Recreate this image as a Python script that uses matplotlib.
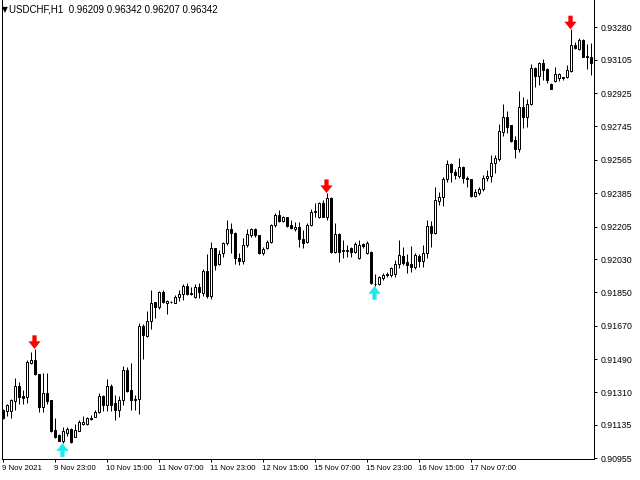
import matplotlib
matplotlib.use("Agg")
import matplotlib.pyplot as plt
import numpy as np

# USDCHF H1 candles
opens = [0.91215, 0.91208, 0.91212, 0.91266, 0.91345, 0.91291, 0.91287, 0.91471, 0.91485, 0.91410,
         0.91230, 0.91309, 0.91269, 0.91108, 0.91079, 0.91050, 0.91093, 0.91111, 0.91071, 0.91104,
         0.91140, 0.91140, 0.91172, 0.91179, 0.91206, 0.91291, 0.91240, 0.91345, 0.91253, 0.91218,
         0.91269, 0.91431, 0.91323, 0.91275, 0.91273, 0.91669, 0.91615, 0.91696, 0.91796, 0.91769,
         0.91852, 0.91791, 0.91796, 0.91794, 0.91823, 0.91841, 0.91884, 0.91847, 0.91827, 0.91877,
         0.91845, 0.91967, 0.91830, 0.92088, 0.92003, 0.92061, 0.92115, 0.92190, 0.92172, 0.92034,
         0.92021, 0.92105, 0.92159, 0.92190, 0.92159, 0.92061, 0.92088, 0.92123, 0.92213, 0.92267,
         0.92237, 0.92255, 0.92213, 0.92192, 0.92204, 0.92136, 0.92123, 0.92213, 0.92283, 0.92255,
         0.92334, 0.92258, 0.92357, 0.92069, 0.92165, 0.92075, 0.92075, 0.92088, 0.92069, 0.92034,
         0.92111, 0.92064, 0.92069, 0.91897, 0.91895, 0.91926, 0.91949, 0.91944, 0.91949, 0.92003,
         0.92046, 0.92015, 0.92003, 0.91988, 0.92046, 0.92021, 0.92064, 0.92206, 0.92172, 0.92344,
         0.92363, 0.92460, 0.92542, 0.92501, 0.92478, 0.92525, 0.92465, 0.92460, 0.92370, 0.92388,
         0.92406, 0.92465, 0.92478, 0.92546, 0.92568, 0.92717, 0.92798, 0.92751, 0.92672, 0.92622,
         0.92851, 0.92798, 0.92864, 0.93059, 0.93015, 0.93089, 0.93053, 0.92974, 0.92992, 0.93005,
         0.93010, 0.93010, 0.93046, 0.93184, 0.93161, 0.93211, 0.93125, 0.93118]
highs = [0.91219, 0.91248, 0.91275, 0.91390, 0.91368, 0.91323, 0.91485, 0.91530, 0.91545, 0.91410,
         0.91417, 0.91413, 0.91269, 0.91171, 0.91084, 0.91125, 0.91125, 0.91117, 0.91138, 0.91162,
         0.91183, 0.91176, 0.91188, 0.91215, 0.91306, 0.91296, 0.91381, 0.91354, 0.91296, 0.91291,
         0.91453, 0.91446, 0.91471, 0.91296, 0.91686, 0.91679, 0.91749, 0.91863, 0.91800, 0.91857,
         0.91863, 0.91809, 0.91803, 0.91836, 0.91863, 0.91895, 0.91899, 0.91881, 0.91895, 0.91902,
         0.91974, 0.92057, 0.92123, 0.92092, 0.92078, 0.92123, 0.92240, 0.92226, 0.92175, 0.92061,
         0.92142, 0.92190, 0.92196, 0.92196, 0.92162, 0.92096, 0.92132, 0.92219, 0.92276, 0.92294,
         0.92262, 0.92258, 0.92240, 0.92230, 0.92231, 0.92186, 0.92223, 0.92298, 0.92330, 0.92339,
         0.92348, 0.92386, 0.92362, 0.92223, 0.92172, 0.92132, 0.92105, 0.92096, 0.92123, 0.92132,
         0.92118, 0.92129, 0.92075, 0.91949, 0.91938, 0.91956, 0.91961, 0.91985, 0.92025, 0.92132,
         0.92093, 0.92057, 0.92100, 0.92061, 0.92057, 0.92105, 0.92240, 0.92237, 0.92417, 0.92393,
         0.92471, 0.92564, 0.92549, 0.92514, 0.92573, 0.92532, 0.92478, 0.92462, 0.92406, 0.92417,
         0.92483, 0.92510, 0.92591, 0.92591, 0.92758, 0.92866, 0.92830, 0.92753, 0.92693, 0.92936,
         0.92902, 0.92891, 0.93082, 0.93067, 0.93094, 0.93107, 0.93059, 0.92977, 0.93064, 0.93033,
         0.93013, 0.93076, 0.93269, 0.93202, 0.93220, 0.93215, 0.93190, 0.93195]
lows = [0.91165, 0.91183, 0.91171, 0.91215, 0.91248, 0.91248, 0.91255, 0.91462, 0.91404, 0.91203,
        0.91203, 0.91248, 0.91098, 0.91064, 0.91048, 0.91036, 0.91075, 0.91040, 0.91070, 0.91102,
        0.91135, 0.91137, 0.91162, 0.91176, 0.91201, 0.91212, 0.91210, 0.91212, 0.91162, 0.91178,
        0.91242, 0.91313, 0.91215, 0.91215, 0.91194, 0.91489, 0.91609, 0.91652, 0.91710, 0.91759,
        0.91791, 0.91732, 0.91791, 0.91791, 0.91805, 0.91809, 0.91836, 0.91838, 0.91822, 0.91820,
        0.91830, 0.91818, 0.91813, 0.91971, 0.91998, 0.92039, 0.92105, 0.92061, 0.92003, 0.91998,
        0.92003, 0.92096, 0.92150, 0.92150, 0.92057, 0.92052, 0.92082, 0.92118, 0.92201, 0.92231,
        0.92231, 0.92204, 0.92190, 0.92181, 0.92096, 0.92088, 0.92118, 0.92208, 0.92258, 0.92249,
        0.92255, 0.92240, 0.92065, 0.92061, 0.92015, 0.92034, 0.92039, 0.92042, 0.92064, 0.92028,
        0.92088, 0.92057, 0.91895, 0.91884, 0.91890, 0.91917, 0.91931, 0.91934, 0.91931, 0.91980,
        0.91998, 0.91956, 0.91961, 0.91974, 0.91988, 0.91985, 0.92034, 0.92093, 0.92165, 0.92321,
        0.92316, 0.92447, 0.92447, 0.92460, 0.92465, 0.92438, 0.92420, 0.92363, 0.92363, 0.92375,
        0.92398, 0.92452, 0.92447, 0.92495, 0.92560, 0.92693, 0.92711, 0.92663, 0.92573, 0.92609,
        0.92737, 0.92740, 0.92861, 0.92956, 0.92969, 0.92995, 0.92981, 0.92947, 0.92986, 0.92992,
        0.92995, 0.93005, 0.93041, 0.93161, 0.93157, 0.93118, 0.93053, 0.93022]
closes = [0.91171, 0.91241, 0.91269, 0.91345, 0.91287, 0.91282, 0.91474, 0.91485, 0.91408, 0.91233,
          0.91309, 0.91266, 0.91104, 0.91068, 0.91050, 0.91104, 0.91111, 0.91044, 0.91108, 0.91151,
          0.91152, 0.91171, 0.91167, 0.91206, 0.91291, 0.91240, 0.91345, 0.91242, 0.91218, 0.91269,
          0.91431, 0.91320, 0.91269, 0.91271, 0.91669, 0.91620, 0.91696, 0.91794, 0.91769, 0.91852,
          0.91800, 0.91803, 0.91798, 0.91827, 0.91841, 0.91884, 0.91841, 0.91841, 0.91881, 0.91854,
          0.91967, 0.91830, 0.92088, 0.91998, 0.92057, 0.92118, 0.92190, 0.92169, 0.92034, 0.92021,
          0.92105, 0.92165, 0.92190, 0.92159, 0.92061, 0.92082, 0.92123, 0.92213, 0.92267, 0.92237,
          0.92255, 0.92208, 0.92196, 0.92204, 0.92136, 0.92118, 0.92213, 0.92285, 0.92287, 0.92330,
          0.92258, 0.92357, 0.92069, 0.92165, 0.92069, 0.92077, 0.92077, 0.92069, 0.92111, 0.92105,
          0.92100, 0.92115, 0.91899, 0.91893, 0.91931, 0.91944, 0.91944, 0.91980, 0.92003, 0.92052,
          0.92010, 0.91998, 0.91988, 0.92052, 0.92021, 0.92064, 0.92206, 0.92172, 0.92348, 0.92363,
          0.92460, 0.92542, 0.92501, 0.92483, 0.92525, 0.92465, 0.92460, 0.92370, 0.92393, 0.92406,
          0.92465, 0.92478, 0.92546, 0.92573, 0.92722, 0.92794, 0.92744, 0.92668, 0.92622, 0.92851,
          0.92798, 0.92864, 0.93059, 0.93015, 0.93089, 0.93051, 0.92995, 0.92949, 0.93028, 0.93028,
          0.93005, 0.93049, 0.93184, 0.93166, 0.93211, 0.93121, 0.93118, 0.93086]

# fractal-style signal arrows (bar index)
sell_bars = [8, 81, 142]
buy_bars = [15, 93]

price_ticks = [0.93280, 0.93105, 0.92925, 0.92745, 0.92565, 0.92385, 0.92205,
               0.92030, 0.91850, 0.91670, 0.91490, 0.91310, 0.91135, 0.90955]
time_tick_bars = [0, 13, 26, 39, 52, 65, 78, 91, 104, 117]
time_tick_labels = ["9 Nov 2021", "9 Nov 23:00", "10 Nov 15:00", "11 Nov 07:00",
                    "11 Nov 23:00", "12 Nov 15:00", "15 Nov 07:00", "15 Nov 23:00",
                    "16 Nov 15:00", "17 Nov 07:00"]
header = "USDCHF,H1  0.96209 0.96342 0.96207 0.96342"

o = np.array(opens)
h = np.array(highs)
l = np.array(lows)
c = np.array(closes)
x = np.arange(len(o))

fig = plt.figure(figsize=(6.4, 4.8), dpi=100)
ax = fig.add_axes([2 / 640, 21 / 480, 592 / 640, 459 / 480])

# wicks then bodies (4 px per bar, centred on pixel columns)
ax.vlines(x, l, h, color="black", linewidth=0.72, zorder=2)
bull = c >= o
body_lo = np.minimum(o, c)
body_h = np.maximum(np.abs(c - o), 0.00001)
ax.bar(x, body_h, bottom=body_lo, width=0.5,
       color=np.where(bull, "white", "black"), edgecolor="black",
       linewidth=0.72, zorder=3)

arrow = dict(arrowstyle="simple,head_length=0.5,head_width=0.8,tail_width=0.28",
             mutation_scale=11, shrinkA=0, shrinkB=0, linewidth=0)
for b in sell_bars:
    ax.annotate("", xy=(b, h[b]), xytext=(0, 9.8), textcoords="offset points",
                arrowprops=dict(arrow, color="#ff0000"), zorder=5)
for b in buy_bars:
    ax.annotate("", xy=(b, l[b]), xytext=(0, -9.8), textcoords="offset points",
                arrowprops=dict(arrow, color="#1ee8f0"), zorder=5)

ax.set_xlim(-0.125, 147.875)
ax.set_ylim(0.909513, 0.934271)

ax.yaxis.tick_right()
ax.set_yticks(price_ticks)
ax.set_yticklabels(["%.5f" % p for p in price_ticks])
ax.tick_params(axis="y", direction="out", length=2.5, width=0.72, pad=2.5,
               labelsize=6.3, labelfontfamily="Liberation Sans")

ax.set_xticks(time_tick_bars)
ax.set_xticklabels(time_tick_labels)
ax.tick_params(axis="x", direction="out", length=2.2, width=0.72, pad=2,
               labelsize=5.6, labelfontfamily="Liberation Sans")
for lbl in ax.get_xticklabels():
    lbl.set_horizontalalignment("left")

for side in ["left", "right", "bottom"]:
    ax.spines[side].set_linewidth(0.72)
ax.spines["top"].set_visible(False)

fig.text(2 / 640, 1 - 10 / 480, "\u25bc", fontsize=5.5, va="center", ha="left",
         family="DejaVu Sans")
fig.text(9 / 640, 1 - 10 / 480, header, fontsize=7, va="center", ha="left",
         family="Liberation Sans")

fig.savefig("out.png", dpi=100)
